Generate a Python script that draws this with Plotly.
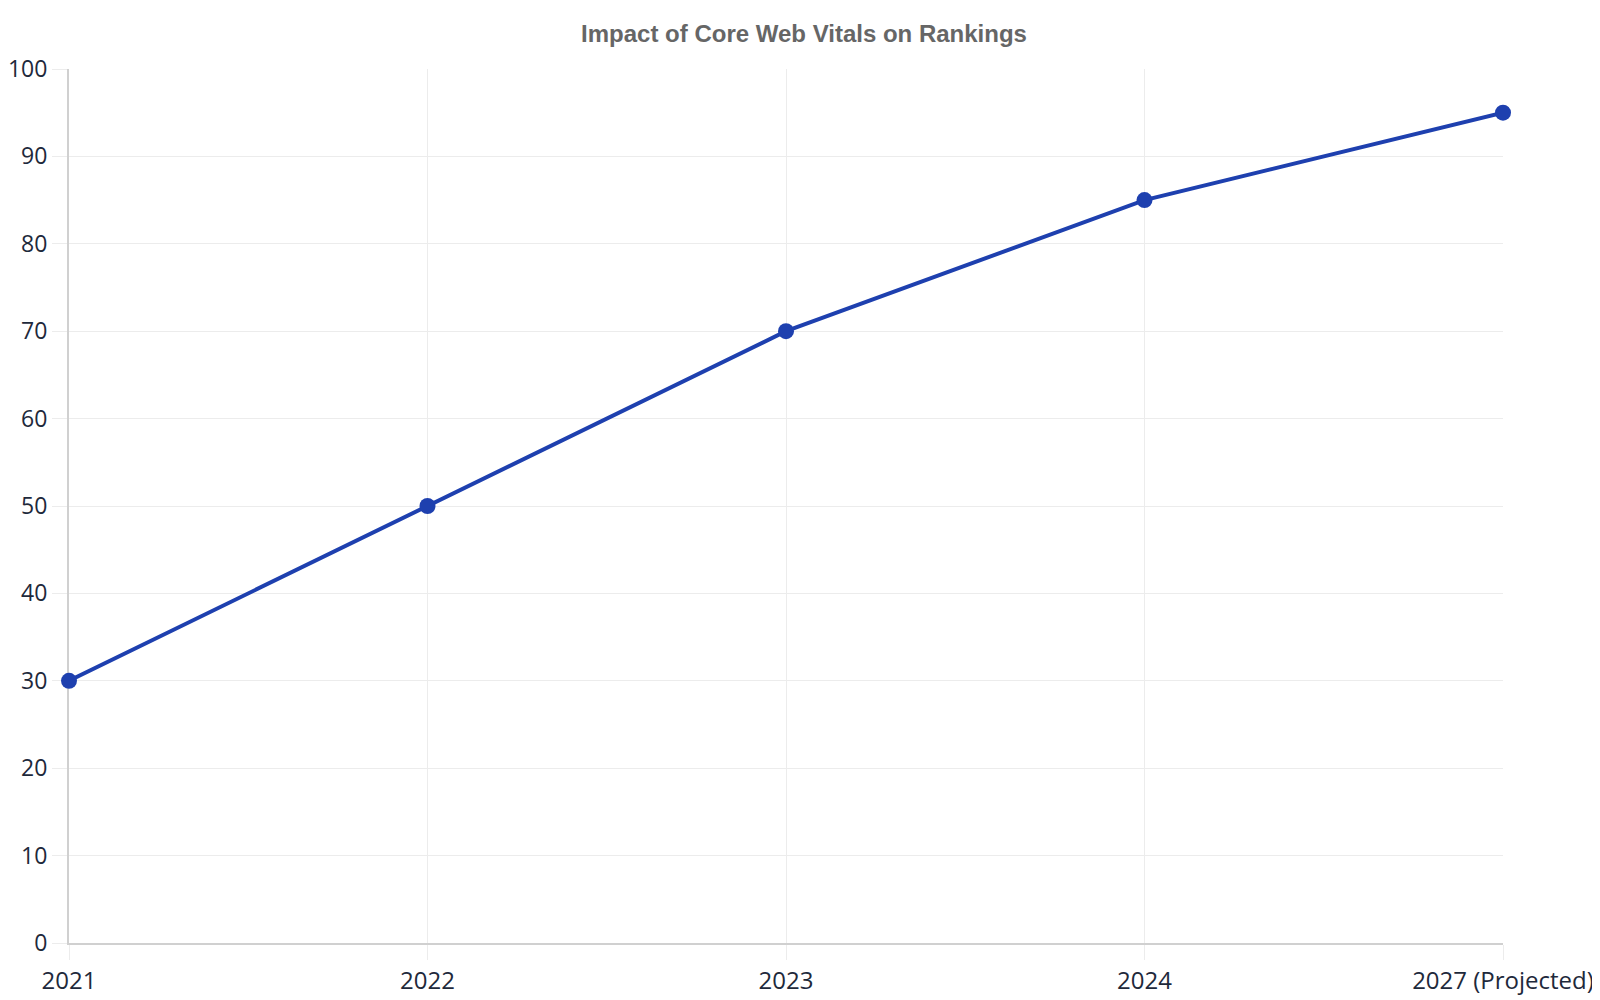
import plotly.graph_objects as go

categories = ["2021", "2022", "2023", "2024", "2027 (Projected)"]
impact_values = [30, 50, 70, 85, 95]
y_ticks = [0, 10, 20, 30, 40, 50, 60, 70, 80, 90, 100]

W, H = 1592, 992  # page body adds an 8px offset

fig = go.Figure()
fig.add_trace(go.Scatter(
    x=categories,
    y=impact_values,
    mode="lines+markers",
    line=dict(color="#1e40af", width=4),
    marker=dict(color="#1e40af", size=16),
    cliponaxis=False,
    showlegend=False,
))

fig.update_layout(
    width=W,
    height=H,
    paper_bgcolor="white",
    plot_bgcolor="white",
    margin=dict(l=61, r=97, t=61, b=57),
    title=dict(
        text="<b>Impact of Core Web Vitals on Rankings</b>",
        x=0.5, xanchor="center",
        y=1 - 26 / H, yanchor="middle",
        font=dict(family="Liberation Sans, Arial, sans-serif", size=24, color="#666666"),
    ),
    font=dict(family="Open Sans, Noto Sans, sans-serif", size=24, color="#1e293b"),
)

fig.update_xaxes(
    type="category",
    range=[0, len(categories) - 1],
    automargin=False,
    layer="below traces",
    showgrid=True, gridcolor="#ececec", gridwidth=1,
    showline=True, linecolor="#d0d0d0", linewidth=2,
    ticks="outside", ticklen=15, tickcolor="#ececec", tickwidth=1,
    tickfont=dict(size=24, color="#1e293b"),
    zeroline=False,
)
fig.update_yaxes(
    range=[0, 100],
    tickvals=y_ticks,
    automargin=False,
    layer="below traces",
    showgrid=True, gridcolor="#ececec", gridwidth=1,
    showline=True, linecolor="#d0d0d0", linewidth=2,
    ticks="outside", ticklen=15, tickcolor="#ececec", tickwidth=1,
    tickfont=dict(size=23, color="#1e293b"),
    zeroline=False,
)

fig.write_html("out.html")
